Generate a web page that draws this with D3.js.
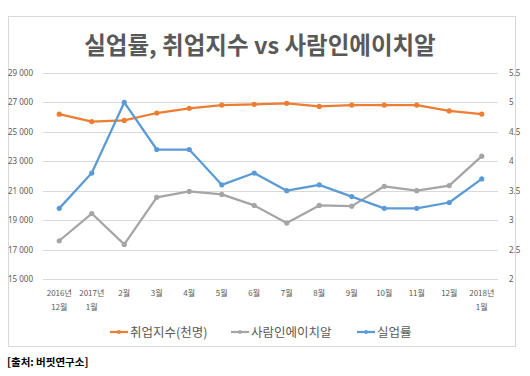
<!DOCTYPE html>
<html>
<head>
<meta charset="utf-8">
<script src="https://cdn.jsdelivr.net/npm/d3@7"></script>
<style>
  body { margin: 0; background: #fff; }
  svg { display: block; font-family: "Noto Sans CJK KR", "Noto Sans", sans-serif; }
</style>
</head>
<body>
<svg id="chart" width="530" height="376"></svg>
<script>
// categories (two-line labels)
var months = [
	["2016년", "12월"], ["2017년", "1월"], ["2월"], ["3월"], ["4월"], ["5월"], ["6월"],
	["7월"], ["8월"], ["9월"], ["10월"], ["11월"], ["12월"], ["2018년", "1월"]
];
// 취업지수(천명) - left axis
var employment = [26200, 25700, 25780, 26280, 26600, 26820, 26870, 26940, 26730, 26820, 26820, 26820, 26420, 26210];
// 사람인에이치알 - left axis
var saramin = [17600, 19450, 17350, 20550, 20950, 20750, 20000, 18800, 20000, 19950, 21300, 21000, 21350, 23350];
// 실업률 - right axis
var unemployment = [3.2, 3.8, 5.0, 4.2, 4.2, 3.6, 3.8, 3.5, 3.6, 3.4, 3.2, 3.2, 3.3, 3.7];

var leftTicks = [15000, 17000, 19000, 21000, 23000, 25000, 27000, 29000];
var rightTicks = [2, 2.5, 3, 3.5, 4, 4.5, 5, 5.5];

var series = [
	{name: "취업지수(천명)", values: employment, axis: "left", color: "#ED7D31"},
	{name: "사람인에이치알", values: saramin, axis: "left", color: "#A5A5A5"},
	{name: "실업률", values: unemployment, axis: "right", color: "#5B9BD5"}
];

var svg = d3.select("#chart");
var textColor = "#595959";

// outer frame
svg.append("rect")
	.attr("x", 8.5).attr("y", 16.5)
	.attr("width", 507).attr("height", 330)
	.attr("fill", "#fff")
	.attr("stroke", "#D9D9D9");

// title
svg.append("text")
	.attr("x", 260).attr("y", 54)
	.attr("text-anchor", "middle")
	.attr("font-size", "23.5px")
	.attr("font-weight", "bold")
	.attr("fill", textColor)
	.text("실업률, 취업지수 vs 사람인에이치알");

var plotLeft = 43, plotRight = 498, plotTop = 73, plotBottom = 279;

var x = d3.scalePoint()
	.domain(d3.range(months.length))
	.range([plotLeft, plotRight])
	.padding(0.5);

var yLeft = d3.scaleLinear().domain([15000, 29000]).range([plotBottom, plotTop]);
var yRight = d3.scaleLinear().domain([2, 5.5]).range([plotBottom, plotTop]);

// gridlines
svg.append("g")
	.selectAll("line")
	.data(leftTicks)
	.join("line")
	.attr("x1", plotLeft).attr("x2", plotRight)
	.attr("y1", function(d) { return Math.round(yLeft(d)) + 0.5; })
	.attr("y2", function(d) { return Math.round(yLeft(d)) + 0.5; })
	.attr("stroke", "#D9D9D9");

// left axis
var leftAxis = svg.append("g")
	.attr("transform", "translate(" + 36 + ",0)")
	.call(d3.axisLeft(yLeft).tickValues(leftTicks).tickFormat(function(d) {
		return d3.format(",")(d).replace(",", " ");
	}).tickSize(0));
leftAxis.select(".domain").remove();
leftAxis.selectAll("text")
	.attr("font-size", "8px").attr("fill", textColor).attr("font-family", "Noto Sans, sans-serif");

// right axis
var rightAxis = svg.append("g")
	.attr("transform", "translate(" + 506 + ",0)")
	.call(d3.axisRight(yRight).tickValues(rightTicks).tickFormat(d3.format("")).tickSize(0));
rightAxis.select(".domain").remove();
rightAxis.selectAll("text")
	.attr("font-size", "8px").attr("fill", textColor).attr("font-family", "Noto Sans, sans-serif");

// x labels
var xLabels = svg.append("g")
	.selectAll("text")
	.data(months)
	.join("text")
	.attr("text-anchor", "middle")
	.attr("font-size", "8px")
	.attr("fill", textColor)
	.attr("transform", function(d, i) { return "translate(" + x(i) + ",296)"; });
xLabels.each(function(d) {
	var t = d3.select(this);
	d.forEach(function(line, k) {
		t.append("tspan").attr("x", 0).attr("y", k * 14).text(line);
	});
});

// lines
var groups = svg.append("g")
	.selectAll("g")
	.data(series)
	.join("g");

groups.append("path")
	.attr("fill", "none")
	.attr("stroke", function(d) { return d.color; })
	.attr("stroke-width", 2.25)
	.attr("stroke-linejoin", "round")
	.attr("d", function(s) {
		var y = s.axis == "left" ? yLeft : yRight;
		return d3.line()
			.x(function(v, i) { return x(i); })
			.y(function(v) { return y(v); })(s.values);
	});

groups.selectAll("circle")
	.data(function(s) {
		var y = s.axis == "left" ? yLeft : yRight;
		return s.values.map(function(v, i) { return {cx: x(i), cy: y(v), color: s.color}; });
	})
	.join("circle")
	.attr("cx", function(d) { return d.cx; })
	.attr("cy", function(d) { return d.cy; })
	.attr("r", 2.6)
	.attr("fill", function(d) { return d.color; });

// legend
var legendX = [110, 231, 357];
var legend = svg.append("g")
	.selectAll("g")
	.data(series)
	.join("g")
	.attr("transform", function(d, i) { return "translate(" + legendX[i] + ",332)"; });
legend.append("line")
	.attr("x1", 0).attr("x2", 18)
	.attr("stroke", function(d) { return d.color; })
	.attr("stroke-width", 2.25);
legend.append("circle")
	.attr("cx", 9).attr("r", 2)
	.attr("fill", function(d) { return d.color; });
legend.append("text")
	.attr("x", 20).attr("y", 4.5)
	.attr("font-size", "12.5px")
	.attr("fill", textColor)
	.text(function(d) { return d.name; });

// source
svg.append("text")
	.attr("x", 7).attr("y", 366)
	.attr("font-size", "10.5px")
	.attr("font-weight", "bold")
	.attr("fill", "#000")
	.text("[출처: 버핏연구소]");
</script>
</body>
</html>
